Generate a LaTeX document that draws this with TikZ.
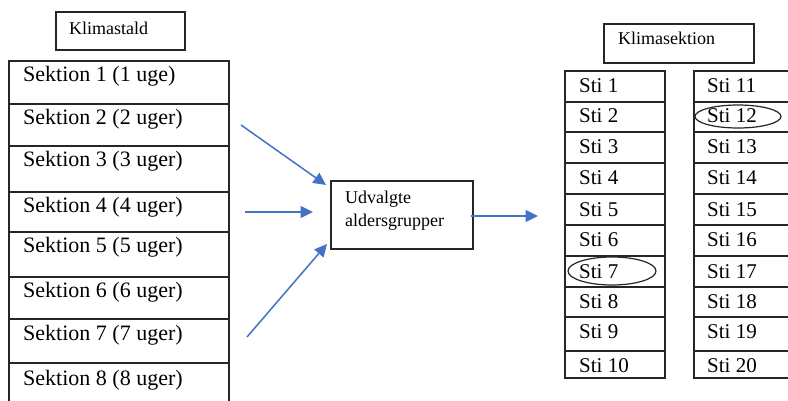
\documentclass[tikz,border=0pt]{standalone}
\usepackage{fontspec}
\setmainfont{Liberation Serif}
\usetikzlibrary{arrows.meta}
\definecolor{arrowblue}{HTML}{4472C4}
\definecolor{linegray}{HTML}{262626}
\begin{document}
\begin{tikzpicture}[x=1pt,y=-1pt,
  frame/.style={draw=linegray, line width=1.6pt, inner sep=0pt},
  big/.style={anchor=base west, inner sep=0pt, font=\fontsize{22}{22}\selectfont},
  sti/.style={anchor=base west, inner sep=0pt, font=\fontsize{21}{21}\selectfont},
  small/.style={anchor=base west, inner sep=0pt, font=\fontsize{18}{18}\selectfont},
  flow/.style={draw=arrowblue, line width=1.5pt, -{Triangle[length=12.5pt,width=12pt]}},
  ring/.style={draw=linegray, line width=1.2pt}]
\useasboundingbox (0,0) rectangle (788,401);
\begin{scope}
\clip (0,0) rectangle (788,401);
% Klimastald title
\node[frame, anchor=north west, minimum width=129pt, minimum height=38pt] (stald) at (55,11) {};
\node[small] (staldtxt) at (69,35) {Klimastald};
% left table
\draw[frame] (9,420) -- (9,61) -- (229,61) -- (229,420);
\foreach \y in {104,146,192,232,277,319,363}{\draw[frame] (9,\y) -- (229,\y);}
\foreach \i/\b/\t in {1/82/Sektion 1 (1 uge),2/125/Sektion 2 (2 uger),3/167/Sektion 3 (3 uger),4/213/Sektion 4 (4 uger),5/253/Sektion 5 (5 uger),6/298/Sektion 6 (6 uger),7/340/Sektion 7 (7 uger),8/385/Sektion 8 (8 uger)}{
  \node[big] (sek\i) at (23,\b) {\t};}
% middle box
\node[frame, anchor=north west, minimum width=142pt, minimum height=68pt] (udv) at (330,180) {};
\node[small] (udv1) at (345,204) {Udvalgte};
\node[small] (udv2) at (345,227) {aldersgrupper};
% arrows
\coordinate (a1s) at (241,125); \coordinate (a1e) at (326,185);
\coordinate (a2s) at (245,212); \coordinate (a2e) at (313,212);
\coordinate (a3s) at (247,337); \coordinate (a3e) at (327,244);
\coordinate (a4s) at (471,216); \coordinate (a4e) at (538,216);
\draw[flow] (a1s) -- (a1e);
\draw[flow] (a2s) -- (a2e);
\draw[flow] (a3s) -- (a3e);
\draw[flow] (a4s) -- (a4e);
% Klimasektion title
\node[frame, anchor=north west, minimum width=150pt, minimum height=39pt] (sekt) at (603,23) {};
\node[small] (sekttxt) at (618,45) {Klimasektion};
% right tables
\draw[frame] (565,71) rectangle (665,378);
\draw[frame] (800,71) -- (694,71) -- (694,378) -- (800,378);
\foreach \y in {102,132,163,194,225,256,287,317,351}{
  \draw[frame] (565,\y) -- (665,\y);
  \draw[frame] (694,\y) -- (800,\y);}
\foreach \i/\b in {1/93,2/123,3/154,4/185,5/217,6/247,7/278,8/308,9/338,10/372}{
  \node[sti] (sti\i) at (579,\b) {Sti \i};
  \pgfmathtruncatemacro{\j}{\i+10}
  \node[sti] (sti\j) at (707,\b) {Sti \j};}
% ellipses
\draw[ring] (738,116.5) ellipse [x radius=43, y radius=11.5];
\draw[ring] (612,271) ellipse [x radius=44, y radius=14];
\end{scope}
\end{tikzpicture}
\end{document}
